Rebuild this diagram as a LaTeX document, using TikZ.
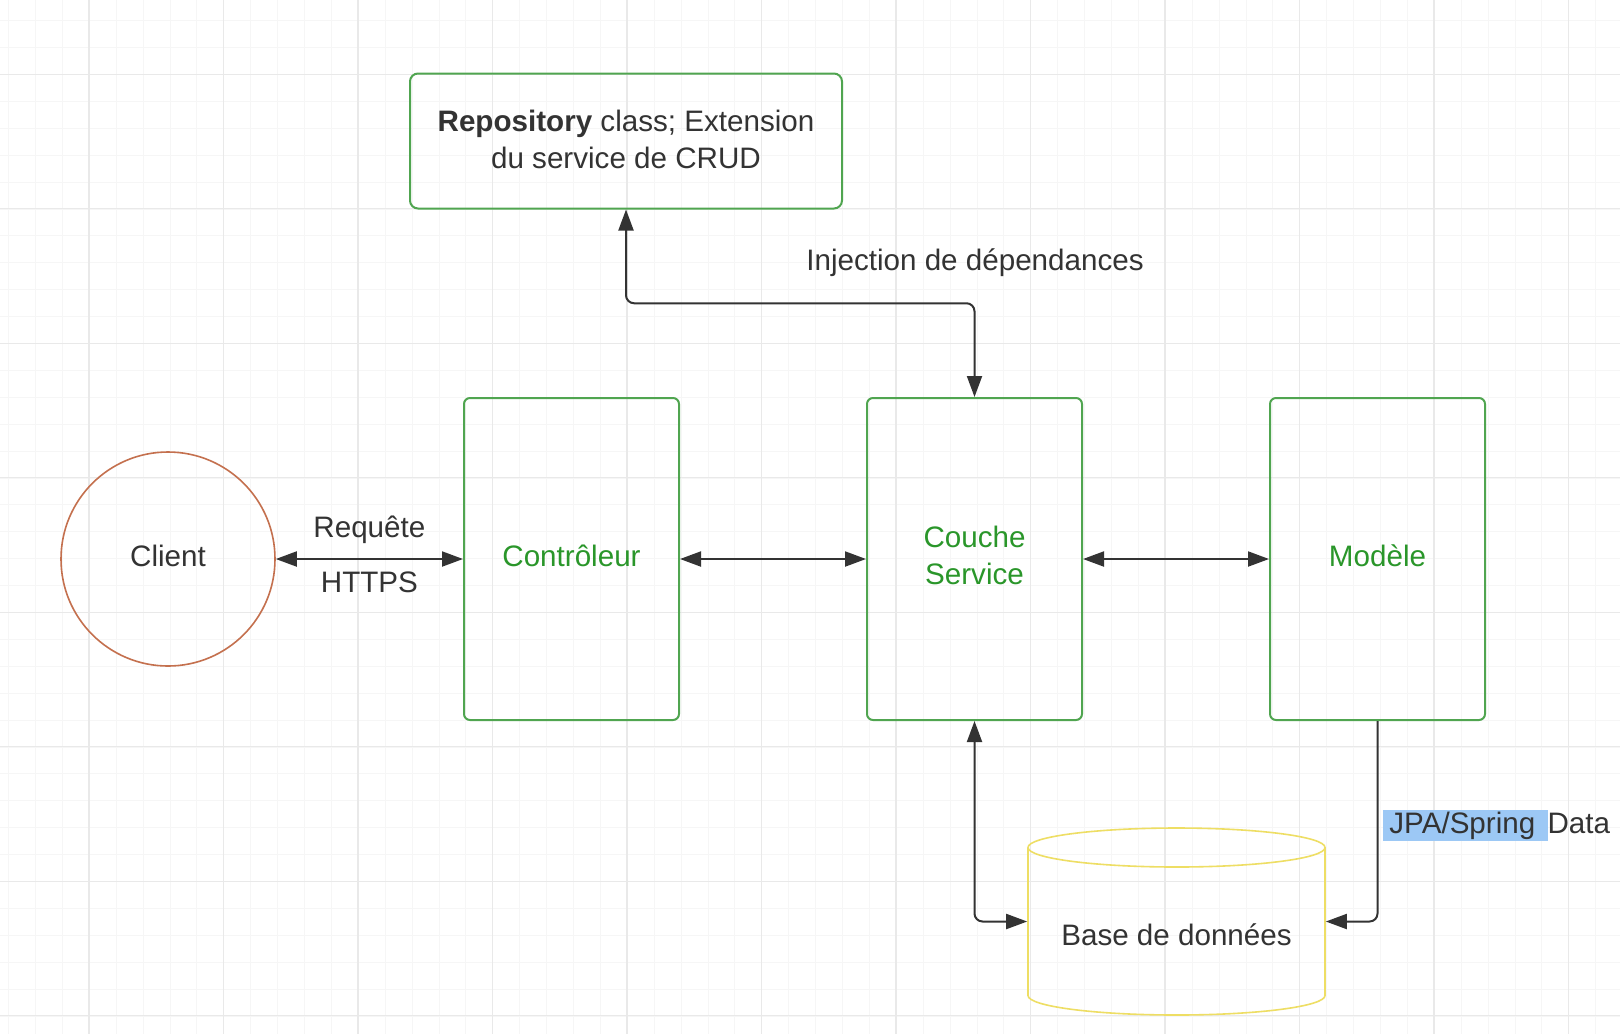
\documentclass[tikz,border=0pt]{standalone}
\usepackage{fontspec}
\setmainfont{Liberation Sans}
\usetikzlibrary{arrows.meta, positioning, shapes.geometric, calc}
\definecolor{ink}{RGB}{51,51,51}
\definecolor{boxgreen}{RGB}{80,165,80}
\definecolor{txtgreen}{RGB}{42,150,42}
\definecolor{clientred}{RGB}{196,112,78}
\definecolor{dbyellow}{RGB}{238,222,100}
\definecolor{hlblue}{RGB}{156,200,245}
\definecolor{gridminor}{RGB}{246,246,246}
\definecolor{gridmajor}{RGB}{233,233,233}

\begin{document}
\begin{tikzpicture}[
    x=0.5pt, y=-0.5pt,
    font=\fontsize{14.8}{18.5}\selectfont,
    every node/.style={text=ink},
    layer/.style={rectangle, draw=boxgreen, line width=1pt, rounded corners=3pt, minimum width=107.5pt, minimum height=161pt, align=center, text=txtgreen, text depth=3.5pt},
    repobox/.style={rectangle, draw=boxgreen, line width=1pt, rounded corners=4pt, minimum width=216pt, minimum height=67.5pt, align=center, text depth=2pt},
    client/.style={circle, draw=clientred, line width=0.8pt, minimum size=107pt, text depth=3.5pt},
    store/.style={cylinder, shape border rotate=90, aspect=0.16, draw=dbyellow, line width=0.8pt, minimum width=148.5pt, minimum height=93.5pt},
    link/.style={draw=ink, line width=1pt, rounded corners=4pt, {Triangle[length=10.5pt, width=7.5pt]}-{Triangle[length=10.5pt, width=7.5pt]}},
    oneway/.style={draw=ink, line width=1pt, rounded corners=4pt, -{Triangle[length=10.5pt, width=7.5pt]}}
]
    % background grid
    \useasboundingbox (0,0) rectangle (1620,1034);
    \fill[white] (0,0) rectangle (1620,1034);
    \foreach \i in {0,...,60}
        \draw[gridminor, line width=0.5pt] ({8.6+26.9*\i},0) -- ({8.6+26.9*\i},1034);
    \foreach \j in {0,...,38}
        \draw[gridminor, line width=0.5pt] (0,{20.7+26.9*\j}) -- (1620,{20.7+26.9*\j});
    \foreach \i in {0,...,12}
        \draw[gridmajor, line width=0.6pt] ({-45.5+134.5*\i},0) -- ({-45.5+134.5*\i},1034);
    \foreach \j in {0,...,8}
        \draw[gridmajor, line width=0.6pt] (0,{-60.2+134.5*\j}) -- (1620,{-60.2+134.5*\j});

    \node[repobox] (repo) at (626,141) {\textbf{Repository} class; Extension\\du service de CRUD};
    \node[client] (client) at (168,559) {Client};
    \node[layer] (ctrl) at (571.5,559) {Contrôleur};
    \node[layer] (service) at (974.5,559) {Couche\\Service};
    \node[layer] (model) at (1377.5,559) {Modèle};
    \node[store, anchor=shape center] (db) at (1176.5,921.5) {Base de données};

    \node[anchor=base] (inject) at (975,270) {Injection de dépendances};
    \node[anchor=base west, inner sep=0pt] (jpa) at (1383,833)
        {{\setlength\fboxsep{1pt}\colorbox{hlblue}{\hspace{2pt}JPA/Spring\hspace{1pt} }}Data};

    \draw[link] (client.east) -- (ctrl.west)
        node[midway, anchor=base, yshift=11pt] (req) {Requête}
        node[midway, anchor=base, yshift=-16.5pt] (https) {HTTPS};
    \draw[link] (ctrl) -- (service);
    \draw[link] (service) -- (model);
    \draw[link] (repo.south) |- ($(repo.south)!.5!(service.north)$) -| (service.north);
    \draw[link] (service.south) |- (db.shape center -| db.west);
    \draw[oneway] (model.south) |- (db.shape center -| db.east);
\end{tikzpicture}
\end{document}
